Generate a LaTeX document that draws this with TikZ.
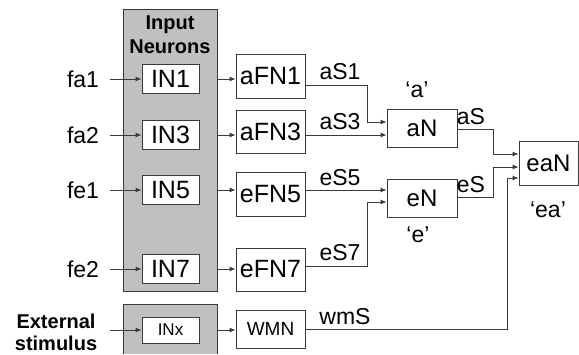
\documentclass[tikz,border=0pt]{standalone}
\usepackage{fontspec}
\setmainfont{Liberation Sans}
\usetikzlibrary{arrows.meta,calc}
\definecolor{linegray}{HTML}{3A3A3A}
\definecolor{panelgray}{HTML}{C0C0C0}
\begin{document}
\begin{tikzpicture}[x=1pt,y=-1pt,
  box/.style={draw=linegray,line width=0.9pt,fill=white,inner sep=0pt,font=\fontsize{25}{27}\selectfont},
  lab/.style={inner sep=0pt,font=\fontsize{23}{25}\selectfont},
  conn/.style={draw=linegray,line width=0.9pt},
  arr/.style={conn,-{Latex[length=6pt,width=5pt]}}]
\useasboundingbox (0,0) rectangle (579,354);
% panels
\node[draw=linegray,line width=0.9pt,fill=panelgray,minimum width=94pt,minimum height=282pt,inner sep=0pt] (panel) at (170,150) {};
\fill[panelgray] (123,304) rectangle (217,354);
\draw[linegray,line width=0.9pt] (123,354) -- (123,304) -- (217,304) -- (217,354);
\coordinate (panelB) at (217,329);
\node[font=\bfseries\fontsize{20}{24}\selectfont,align=center,inner sep=0pt] (title) at (170,35) {Input\\Neurons};
% input neurons
\node[box,minimum width=57pt,minimum height=29pt] (IN1) at (170.5,79) {IN1};
\node[box,minimum width=57pt,minimum height=29pt] (IN3) at (170.5,135) {IN3};
\node[box,minimum width=57pt,minimum height=29pt] (IN5) at (170.5,190) {IN5};
\node[box,minimum width=57pt,minimum height=29pt] (IN7) at (170.5,269) {IN7};
\node[box,minimum width=57pt,minimum height=26pt,font=\fontsize{17}{19}\selectfont] (INx) at (170.5,330) {INx};
% feature neurons
\node[box,minimum width=69pt,minimum height=44pt] (aFN1) at (270.5,76) {aFN1};
\node[box,minimum width=69pt,minimum height=43pt] (aFN3) at (270.5,131.5) {aFN3};
\node[box,minimum width=69pt,minimum height=44pt] (eFN5) at (270.5,194) {eFN5};
\node[box,minimum width=69pt,minimum height=43pt] (eFN7) at (270.5,269.5) {eFN7};
\node[box,minimum width=69pt,minimum height=38pt,font=\fontsize{19}{21}\selectfont] (WMN) at (270.5,329) {WMN};
% higher neurons
\node[box,minimum width=70pt,minimum height=38pt,font=\fontsize{24}{26}\selectfont] (aN) at (422,128) {aN};
\node[box,minimum width=70pt,minimum height=38pt,font=\fontsize{24}{26}\selectfont] (eN) at (422,198) {eN};
\node[box,minimum width=59pt,minimum height=44pt,font=\fontsize{24}{26}\selectfont] (eaN) at (548.5,163) {eaN};
% input labels
\node[lab] (fa1) at (83,79) {fa1};
\node[lab] (fa2) at (83,135) {fa2};
\node[lab] (fe1) at (83,190) {fe1};
\node[lab] (fe2) at (83,269) {fe2};
\node[font=\bfseries\fontsize{20}{22}\selectfont,align=center,inner sep=0pt] (ext) at (56,332) {External\\stimulus};
\coordinate (s1) at (110,79);
\coordinate (s2) at (110,135);
\coordinate (s3) at (110,190);
\coordinate (s4) at (110,269);
\coordinate (s5) at (110,330);
\draw[arr] (s1) -- (IN1);
\draw[arr] (s2) -- (IN3);
\draw[arr] (s3) -- (IN5);
\draw[arr] (s4) -- (IN7);
\draw[arr] (s5) -- (INx);
% panel to feature neurons
\draw[arr] (IN1 -| panel.east) -- (IN1 -| aFN1.west);
\draw[arr] (IN3 -| panel.east) -- (IN3 -| aFN3.west);
\draw[arr] (IN5 -| panel.east) -- (IN5 -| eFN5.west);
\draw[arr] (IN7 -| panel.east) -- (IN7 -| eFN7.west);
\draw[arr] (INx -| panelB) -- (INx -| WMN.west);
% corner points
\coordinate (k1) at (367,85);
\coordinate (k1b) at (367,122);
\coordinate (k7) at (367,266);
\coordinate (k7b) at (367,202);
\coordinate (ka) at (493,129);
\coordinate (kab) at (493,154);
\coordinate (ke) at (493,197);
\coordinate (keb) at (493,167);
\coordinate (kw) at (507,329);
\coordinate (kwb) at (507,178);
% feature to aN/eN
\draw[arr] (aFN1.east |- k1) -- (k1) -- (k1b) -- (k1b -| aN.west);
\draw[arr] (aFN3.east |- 0,135) -- (aN.west |- 0,135);
\draw[arr] (eFN5.east |- 0,190) -- (eN.west |- 0,190);
\draw[arr] (eFN7.east |- k7) -- (k7) -- (k7b) -- (k7b -| eN.west);
% to eaN
\draw[arr] (aN.east |- ka) -- (ka) -- (kab) -- (kab -| eaN.west);
\draw[arr] (eN.east |- ke) -- (ke) -- (keb) -- (keb -| eaN.west);
\draw[arr] (WMN.east |- kw) -- (kw) -- (kwb) -- (kwb -| eaN.west);
% connector labels
\node[lab] (laS1) at (340,72) {aS1};
\node[lab] (laS3) at (340,122) {aS3};
\node[lab] (leS5) at (340,178) {eS5};
\node[lab] (leS7) at (340,253) {eS7};
\node[lab] (lwmS) at (345,317) {wmS};
\node[lab] (laS) at (471,117) {aS};
\node[lab] (leS) at (471,185) {eS};
\node[lab] (qa) at (417,90) {‘a’};
\node[lab] (qe) at (418,235) {‘e’};
\node[lab] (qea) at (548,210) {‘ea’};
\end{tikzpicture}
\end{document}
